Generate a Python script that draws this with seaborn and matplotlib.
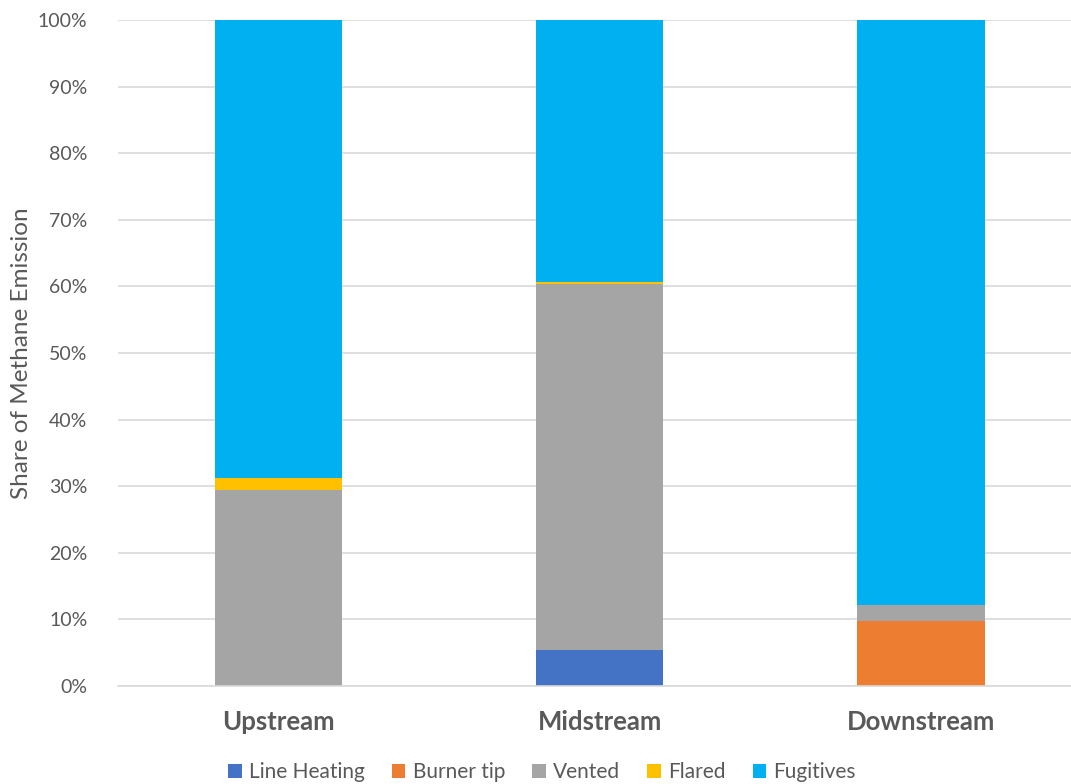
import numpy as np
import pandas as pd
import matplotlib
matplotlib.use("Agg")
import matplotlib.pyplot as plt
import seaborn as sns
from matplotlib.patches import Patch
from matplotlib.ticker import PercentFormatter

stages = ["Upstream", "Midstream", "Downstream"]
line_heating = [0.0, 5.4, 0.0]
burner_tip = [0.0, 0.0, 9.8]
vented = [29.4, 54.9, 2.4]
flared = [1.9, 0.3, 0.0]
fugitives = [68.7, 39.4, 87.8]

series = ["Line Heating", "Burner tip", "Vented", "Flared", "Fugitives"]
colors = ["#4472C4", "#ED7D31", "#A5A5A5", "#FFC000", "#00B0F0"]

sns.set_theme(style="white")
plt.rcParams["font.family"] = ["Lato", "DejaVu Sans"]

df = pd.DataFrame({
    "Stage": stages,
    "Line Heating": line_heating,
    "Burner tip": burner_tip,
    "Vented": vented,
    "Flared": flared,
    "Fugitives": fugitives,
})
cum = df[series].cumsum(axis=1)

fig = plt.figure(figsize=(10.71, 7.84), dpi=100)
ax = fig.add_axes([118 / 1071, 98 / 784, 963.5 / 1071, 666 / 784])

# stacked bars: draw cumulative totals from the top layer down
for name, col in reversed(list(zip(series, colors))):
    sns.barplot(x=df["Stage"], y=cum[name], color=col, width=0.396,
                saturation=1, ax=ax, linewidth=0, zorder=3)

ax.set_xlim(-0.5, 2.5)
ax.set_ylim(0, 100)
ax.set_yticks(np.arange(0, 101, 10))
ax.yaxis.set_major_formatter(PercentFormatter(decimals=0))
ax.grid(axis="y", color="#D9D9D9", linewidth=1.2, zorder=0)
ax.set_axisbelow(True)
for s in ["top", "right", "left"]:
    ax.spines[s].set_visible(False)
ax.spines["bottom"].set_color("#D9D9D9")
ax.spines["bottom"].set_linewidth(1.2)
ax.spines["bottom"].set_zorder(4)

ax.tick_params(axis="y", length=0, labelsize=14, labelcolor="#595959", pad=22)
ax.tick_params(axis="x", length=0, labelsize=18.5, labelcolor="#595959", pad=17)
for t in ax.get_xticklabels():
    t.set_fontweight("bold")
ax.set_xlabel("")
ax.set_ylabel("Share of Methane Emission", fontsize=17.5, color="#595959", labelpad=4)

handles = [Patch(facecolor=c, edgecolor="none") for c in colors]
fig.legend(handles, series, loc="lower center", bbox_to_anchor=(0.506, -0.022),
           ncol=5, frameon=False, fontsize=15, labelcolor="#595959",
           handlelength=0.65, handleheight=0.65, handletextpad=0.35, columnspacing=1.3)

fig.savefig("out.png", dpi=100)
